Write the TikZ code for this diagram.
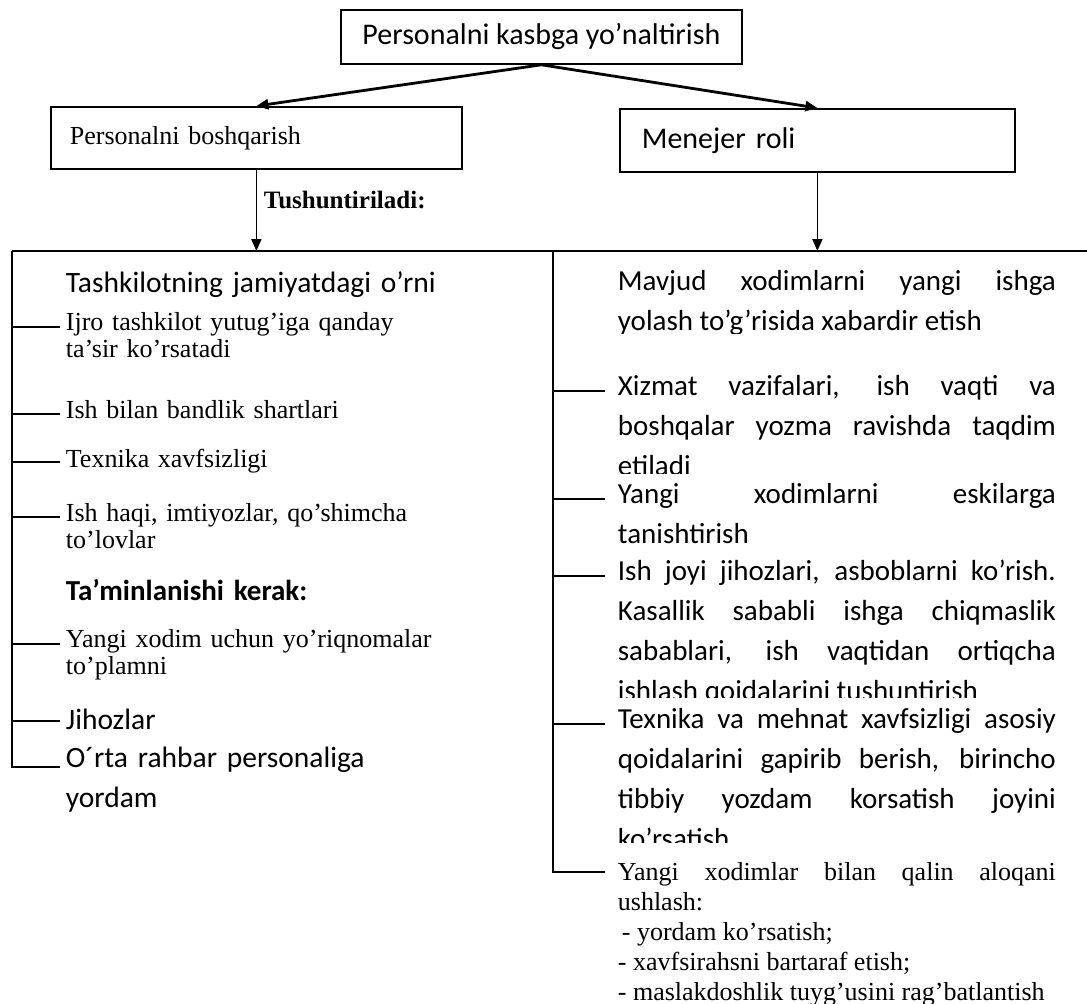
\documentclass[tikz,border=0pt]{standalone}
\usepackage{fontspec}
\setmainfont{Liberation Serif}
\newfontfamily\calib{Carlito}
\usetikzlibrary{arrows.meta}
\hyphenpenalty=10000 \exhyphenpenalty=10000 \tolerance=10000 \hbadness=10000
\begin{document}
\begin{tikzpicture}[x=1pt,y=-1pt,line width=1.8pt,
  box/.style={draw,line width=1.8pt,inner sep=0pt,anchor=north west},
  arr/.style={-{Triangle[length=12pt,width=10pt]}},
  lsans/.style={anchor=base west,inner sep=0pt,text width=440pt,align=left,font=\calib\fontsize{29.5}{40}\selectfont},
  lser/.style={anchor=base west,inner sep=0pt,text width=440pt,align=left,font=\fontsize{26}{27}\selectfont},
  rsans/.style={anchor=base west,inner sep=0pt,text width=438pt,align=justify,font=\calib\fontsize{29}{40}\selectfont},
  rser/.style={anchor=base west,inner sep=0pt,text width=438pt,align=justify,font=\fontsize{26}{30}\selectfont}]
\useasboundingbox (0,0) rectangle (1087,1004);
\node[box,minimum width=401pt,minimum height=54pt,font=\calib\fontsize{30}{36}\selectfont] (top) at (340,9) {Personalni kasbga yo’naltirish};
\node[box,minimum width=411pt,minimum height=62pt,text width=373pt,inner xsep=19pt,align=left,font=\fontsize{26}{30}\selectfont] (lbox) at (50,106) {Personalni boshqarish};
\node[box,minimum width=395pt,minimum height=63pt,text width=351pt,inner xsep=22pt,align=left,font=\calib\fontsize{30}{36}\selectfont] (rbox) at (619,108) {Menejer roli};
\draw[arr,line width=2.8pt] (top.south) -- (lbox.north);\draw[arr,line width=2.8pt] (top.south) -- (rbox.north);
\coordinate (hl) at (12,251);\coordinate (hr) at (1087,251);\coordinate (rt) at (553,251);
\draw[arr] (lbox.south) -- (lbox.south |- hl);\draw[arr] (rbox.south) -- (rbox.south |- hl);\draw (hl) -- (hr);
\node[anchor=base west,inner sep=0pt,font=\bfseries\fontsize{25}{30}\selectfont] (tush) at (263,208) {Tushuntiriladi:};
\node[lsans] (i1) at (65,292) {Tashkilotning jamiyatdagi o’rni};
\node[lser] (i2) at (65,330) {Ijro tashkilot yutug’iga qanday\\ta’sir ko’rsatadi};
\node[lser] (i3) at (65,418) {Ish bilan bandlik shartlari};
\node[lser] (i4) at (65,467) {Texnika xavfsizligi};
\node[lser] (i5) at (65,521) {Ish haqi, imtiyozlar, qo’shimcha\\to’lovlar};
\node[lsans,font=\calib\bfseries\fontsize{29}{35}\selectfont] (i6) at (65,600) {Ta’minlanishi kerak:};
\node[lser] (i7) at (65,647) {Yangi xodim uchun yo’riqnomalar\\to’plamni};
\node[lsans] (i8) at (65,729) {Jihozlar};
\node[lsans] (i9) at (65,767) {O´rta rahbar personaliga\\yordam};
\draw (hl) |- ([xshift=-5pt]i9.base west);
\foreach \n/\d in {i2/3,i3/4,i4/5,i5/4,i7/3,i8/8} \draw ([shift={(-5pt,\d pt)}]\n.base west) -- ++(-48,0);
\begin{scope}\clip (600,253) rectangle (1087,333);
\node[rsans] (r1) at (617,290) {Mavjud xodimlarni yangi ishga \linebreak yolash to’g’risida xabardir etish};
\end{scope}
\begin{scope}\clip (600,345) rectangle (1087,473);
\node[rsans] (r2) at (617,395) {Xizmat vazifalari, ish vaqti va \linebreak boshqalar yozma ravishda taqdim \linebreak etiladi};
\end{scope}
\node[rsans] (r3) at (617,503) {Yangi xodimlarni eskilarga \linebreak tanishtirish};
\begin{scope}\clip (600,550) rectangle (1087,697);
\node[rsans] (r4) at (617,580) {Ish joyi jihozlari, asboblarni ko’rish. \linebreak Kasallik sababli ishga chiqmaslik \linebreak sabablari, ish vaqtidan ortiqcha \linebreak ishlash qoidalarini tushuntirish};
\end{scope}
\begin{scope}\clip (600,700) rectangle (1087,842);
\node[rsans] (r5) at (617,728) {Texnika va mehnat xavfsizligi asosiy \linebreak qoidalarini gapirib berish, birincho \linebreak tibbiy yozdam korsatish joyini \linebreak ko’rsatish};
\end{scope}
\node[rser] (r6) at (617,880) {Yangi xodimlar bilan qalin aloqani \linebreak ushlash:\\\hspace*{4pt}- yordam ko’rsatish;\\- xavfsirahsni bartaraf etish;\\- maslakdoshlik tuyg’usini rag’batlantish};
\draw (rt) |- ([shift={(-12pt,8pt)}]r6.base west);
\foreach \n in {r2,r3,r4,r5} \draw ([shift={(-12pt,4pt)}]\n.base west) -- ++(-52,0);
\end{tikzpicture}
\end{document}
